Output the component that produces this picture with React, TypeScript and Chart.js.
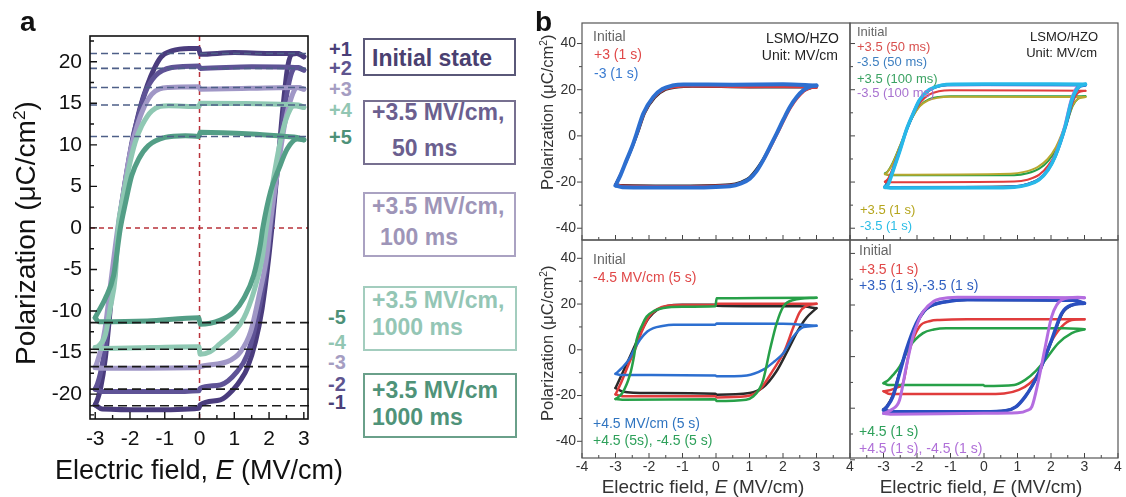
import React, { useEffect, useRef } from "react";
import { Chart, registerables } from "chart.js";

Chart.register(...registerables);

type Pt = [number, number];
const FF = '"Liberation Sans", Arial, Helvetica, sans-serif';

// ---------------- Panel a data ----------------
const A_X_TICKS = [-3, -2, -1, 0, 1, 2, 3];
const A_Y_TICKS = [-20, -15, -10, -5, 0, 5, 10, 15, 20];
const A_UPPER_LEVELS = [21.0, 19.2, 16.9, 14.8, 11.0];
const A_LOWER_LEVELS = [-11.4, -14.6, -16.7, -19.4, -21.4];
const A_PLUS_LABELS = ["+1", "+2", "+3", "+4", "+5"];
const A_MINUS_LABELS = ["-5", "-4", "-3", "-2", "-1"];

const A1_UPPER: Pt[] = [[-3.0,-21.3],[-2.93,-20.6],[-2.85,-19.4],[-2.71,-15.7],[-2.52,-7.7],[-2.33,0],[-2.2,3.8],[-2.05,7.6],[-1.9,11.0],[-1.7,14.6],[-1.5,17.2],[-1.3,19.2],[-1.1,20.6],[-0.8,21.3],[-0.3,21.6],[-0.02,21.6],[0.02,20.9],[1.0,21.1],[2.0,21.0],[2.85,21.0],[3.0,20.6]];
const A1_LOWER: Pt[] = [[-3.0,-21.3],[-2.8,-21.8],[-1.5,-21.9],[-0.02,-21.7],[0.02,-21.3],[0.6,-20.7],[0.98,-19.4],[1.2,-18.2],[1.37,-16.9],[1.61,-13.7],[1.8,-9.7],[1.99,-3.6],[2.09,0.4],[2.25,7.5],[2.4,14.5],[2.54,19.5],[2.66,20.9],[2.8,21.0],[3.0,20.6]];
const A2_UPPER: Pt[] = [[-3.0,-19.4],[-2.93,-18.7],[-2.85,-17.5],[-2.72,-14.5],[-2.52,-7.5],[-2.33,0],[-2.2,3.9],[-2.05,7.8],[-1.9,11.2],[-1.75,13.6],[-1.56,16.3],[-1.27,18.3],[-0.8,19.3],[-0.02,19.5],[0.02,19.2],[1.5,19.4],[2.85,19.3],[3.0,19.0]];
const A2_LOWER: Pt[] = [[-3.0,-19.4],[-2.8,-19.7],[-1.0,-19.7],[-0.02,-19.6],[0.02,-19.3],[0.6,-18.9],[1.08,-17.3],[1.37,-15.3],[1.61,-11.7],[1.85,-6.5],[2.05,0],[2.25,7.5],[2.45,14.5],[2.62,18.3],[2.76,19.3],[3.0,19.0]];
const A3_UPPER: Pt[] = [[-3.0,-16.8],[-2.93,-16.0],[-2.85,-14.8],[-2.72,-12.2],[-2.55,-6.5],[-2.35,0],[-2.2,4.0],[-2.0,9.0],[-1.85,11.5],[-1.66,13.9],[-1.37,16.1],[-0.9,16.9],[-0.02,17.0],[0.02,16.7],[2.85,16.9],[3.0,16.7]];
const A3_LOWER: Pt[] = [[-3.0,-16.8],[-2.8,-16.9],[-0.02,-16.8],[0.02,-16.7],[0.8,-16.1],[1.18,-14.9],[1.47,-12.5],[1.7,-8.4],[1.95,-2.9],[2.02,0],[2.25,7.0],[2.45,12.5],[2.65,15.8],[2.8,16.9],[3.0,16.7]];
const A4_UPPER: Pt[] = [[-3.0,-14.4],[-2.9,-14.2],[-2.71,-12.9],[-2.57,-9.7],[-2.42,-5.7],[-2.33,0.4],[-2.23,3.0],[-2.04,7.1],[-1.85,10.3],[-1.66,12.3],[-1.37,14.1],[-0.89,14.7],[-0.02,14.6],[0.02,15.0],[2.85,14.8],[3.0,14.5]];
const A4_LOWER: Pt[] = [[-3.0,-14.4],[-2.8,-14.5],[-0.02,-14.3],[0.02,-15.2],[0.3,-14.9],[0.6,-13.9],[0.99,-12.5],[1.27,-10.9],[1.56,-7.7],[1.8,-3.7],[1.92,0],[2.15,6.5],[2.4,11.8],[2.6,14.2],[2.71,14.7],[3.0,14.5]];
const A5_UPPER: Pt[] = [[-3.0,-10.8],[-2.9,-10.0],[-2.71,-8.5],[-2.47,-5.7],[-2.28,-0.1],[-2.13,3.0],[-1.95,6.3],[-1.75,8.3],[-1.47,9.9],[-0.99,10.9],[-0.41,11.1],[-0.02,11.0],[0.02,11.5],[1.5,11.3],[2.5,11.0],[2.8,10.9],[3.0,10.6]];
const A5_LOWER: Pt[] = [[-3.0,-10.8],[-2.9,-11.3],[-1.5,-11.2],[-0.02,-10.8],[0.02,-11.6],[0.6,-11.1],[0.99,-10.1],[1.27,-8.5],[1.56,-5.7],[1.75,-2.0],[1.82,0],[2.05,4.5],[2.28,7.1],[2.52,9.5],[2.81,10.7],[3.0,10.6]];

// ---------------- Panel b data ----------------
const B_X_TICKS = [-4, -3, -2, -1, 0, 1, 2, 3, 4];
const B4_X_TICKS = [-3, -2, -1, 0, 1, 2, 3, 4];
const B_Y_TICKS = [-40, -20, 0, 20, 40];

// b1
const B1_INIT_UPPER: Pt[] = [[-3.0,-20.8],[-2.83,-16.0],[-2.62,-9.5],[-2.32,1.5],[-2.12,9.8],[-1.82,16.5],[-1.5,19.9],[-1.15,21.0],[-0.7,21.3],[1.0,21.0],[3.0,21.0]];
const B1_INIT_LOWER: Pt[] = [[-3.0,-20.8],[-2.8,-21.3],[-1.0,-21.5],[0.4,-21.0],[0.75,-19.8],[1.0,-17.8],[1.38,-10.5],[1.78,0.5],[2.18,12.0],[2.6,19.2],[2.85,20.7],[3.0,21.0]];
const B1_P3_UPPER: Pt[] = [[-3.0,-21.0],[-2.85,-16.5],[-2.65,-10.0],[-2.35,1.0],[-2.15,9.5],[-1.85,16.6],[-1.55,20.0],[-1.2,21.2],[-0.8,21.5],[1.0,21.2],[2.0,21.3],[3.0,21.0]];
const B1_P3_LOWER: Pt[] = [[-3.0,-21.0],[-2.8,-21.6],[-1.0,-21.8],[0.45,-21.3],[0.8,-20.0],[1.05,-18.0],[1.43,-10.3],[1.83,0.8],[2.23,12.2],[2.63,19.3],[2.85,20.8],[3.0,21.0]];
const B1_M3_UPPER: Pt[] = [[-3.0,-21.5],[-2.85,-17.0],[-2.67,-10.5],[-2.5,-4.5],[-2.37,1.0],[-2.17,9.7],[-1.87,16.9],[-1.6,20.3],[-1.3,21.8],[-0.97,22.3],[0.5,22.2],[2.0,22.4],[3.0,21.8]];
const B1_M3_LOWER: Pt[] = [[-3.0,-21.5],[-2.8,-22.2],[-1.0,-22.4],[0.42,-21.8],[0.75,-20.6],[1.01,-18.5],[1.2,-15.5],[1.41,-10.5],[1.61,-4.8],[1.81,1.0],[2.01,7.0],[2.21,12.6],[2.41,16.8],[2.61,19.8],[2.8,21.3],[3.0,21.8]];

// b2
const B2_INIT_UPPER: Pt[] = [[-2.96,-21.8],[-2.85,-19.0],[-2.68,-13.0],[-2.3,3.0],[-2.1,10.0],[-1.9,15.8],[-1.65,19.5],[-1.4,21.3],[-1.1,22.0],[3.03,22.0]];
const B2_INIT_LOWER: Pt[] = [[-2.96,-21.8],[-2.8,-22.2],[0.9,-21.8],[1.3,-20.8],[1.65,-18.6],[1.92,-14.2],[2.14,-8.2],[2.44,4.5],[2.64,15.8],[2.83,21.0],[3.03,22.0]];
const B2_P35_50_UPPER: Pt[] = [[-2.96,-19.9],[-2.86,-18.5],[-2.7,-13.0],[-2.5,-5.0],[-2.3,2.8],[-2.1,9.5],[-1.9,14.5],[-1.65,17.8],[-1.35,19.3],[-1.0,19.8],[3.03,19.5]];
const B2_P35_50_LOWER: Pt[] = [[-2.96,-19.9],[-2.8,-20.1],[0.9,-19.8],[1.3,-19.0],[1.65,-16.8],[1.92,-12.8],[2.15,-7.0],[2.45,4.5],[2.65,14.5],[2.82,18.8],[3.03,19.5]];
const B2_M35_50_UPPER: Pt[] = [[-2.96,-22.0],[-2.86,-20.5],[-2.7,-14.2],[-2.5,-5.6],[-2.3,3.0],[-2.1,10.0],[-1.9,15.8],[-1.66,19.6],[-1.4,21.4],[-1.1,22.2],[0,22.3],[3.03,22.0]];
const B2_M35_50_LOWER: Pt[] = [[-2.96,-22.0],[-2.8,-22.4],[0,-22.3],[0.9,-22.0],[1.3,-21.0],[1.65,-18.8],[1.92,-14.5],[2.14,-8.5],[2.44,4.2],[2.64,15.6],[2.83,21.0],[3.03,22.0]];
const B2_P35_100_UPPER: Pt[] = [[-2.96,-16.3],[-2.88,-15.5],[-2.72,-11.5],[-2.5,-4.0],[-2.3,3.0],[-2.1,9.0],[-1.9,13.3],[-1.65,15.8],[-1.35,16.9],[-1.0,17.2],[3.03,17.2]];
const B2_P35_100_LOWER: Pt[] = [[-2.96,-16.3],[-2.85,-17.0],[0.9,-17.0],[1.3,-16.2],[1.65,-14.2],[1.92,-10.8],[2.15,-5.8],[2.45,4.5],[2.65,13.0],[2.82,16.3],[3.03,17.2]];
const B2_M35_100_UPPER: Pt[] = [[-2.96,-22.2],[-2.88,-21.0],[-2.72,-15.0],[-2.52,-6.5],[-2.34,2.0],[-2.14,9.2],[-1.95,15.0],[-1.72,19.0],[-1.45,21.2],[-1.15,22.0],[3.03,22.0]];
const B2_M35_100_LOWER: Pt[] = [[-2.96,-22.2],[-2.8,-22.5],[0.9,-22.1],[1.3,-21.1],[1.62,-19.0],[1.9,-14.5],[2.1,-9.0],[2.4,4.0],[2.6,15.8],[2.78,21.2],[3.03,22.0]];
const B2_P35_1S_UPPER: Pt[] = [[-2.96,-16.6],[-2.88,-15.6],[-2.72,-11.8],[-2.52,-4.8],[-2.32,2.4],[-2.12,8.5],[-1.92,12.8],[-1.68,15.3],[-1.38,16.5],[-1.0,16.9],[3.03,16.8]];
const B2_P35_1S_LOWER: Pt[] = [[-2.96,-16.6],[-2.85,-16.8],[0.8,-16.4],[1.2,-15.6],[1.6,-13.5],[1.9,-10.0],[2.15,-4.8],[2.42,4.5],[2.62,12.5],[2.8,16.0],[3.03,16.8]];
const B2_M35_1S_UPPER: Pt[] = [[-2.96,-22.3],[-2.86,-21.0],[-2.7,-14.5],[-2.5,-6.0],[-2.32,2.5],[-2.12,9.5],[-1.93,15.5],[-1.7,19.3],[-1.43,21.3],[-1.13,22.3],[0,22.5],[3.03,22.4]];
const B2_M35_1S_LOWER: Pt[] = [[-2.96,-22.3],[-2.8,-22.6],[0,-22.5],[0.9,-22.2],[1.3,-21.2],[1.63,-19.2],[1.9,-15.0],[2.12,-9.1],[2.42,3.9],[2.62,15.5],[2.81,21.0],[3.03,22.4]];

// b3
const B3_INIT_UPPER: Pt[] = [[-3.0,-16.7],[-2.85,-12.0],[-2.6,-4.0],[-2.4,2.5],[-2.2,9.0],[-2.0,14.0],[-1.75,17.5],[-1.45,19.2],[-1.0,19.7],[-0.02,19.7],[0.02,19.3],[2.5,19.0],[3.0,18.2]];
const B3_INIT_LOWER: Pt[] = [[-3.0,-16.7],[-2.8,-18.2],[-2.0,-18.9],[-0.02,-19.2],[0.02,-19.6],[1.0,-18.9],[1.4,-16.5],[1.8,-9.5],[2.15,0],[2.45,8.5],[2.7,14.0],[3.0,18.2]];
const B3_M45_UPPER: Pt[] = [[-3.0,-19.5],[-2.85,-15.0],[-2.6,-6.0],[-2.42,0],[-2.2,8.5],[-2.0,14.5],[-1.75,17.8],[-1.45,19.3],[-1.0,19.6],[-0.02,19.6],[0.02,20.1],[3.0,20.1]];
const B3_M45_LOWER: Pt[] = [[-3.0,-19.5],[-2.8,-20.3],[-0.02,-20.3],[0.02,-20.8],[0.9,-20.3],[1.3,-17.5],[1.7,-9.0],[2.06,0],[2.3,9.5],[2.5,16.5],[2.7,19.2],[3.0,20.1]];
const B3_P45_UPPER: Pt[] = [[-3.0,-10.5],[-2.8,-7.8],[-2.57,-3.6],[-2.45,0],[-2.27,4.4],[-2.05,8.0],[-1.87,9.5],[-1.6,10.4],[-1.27,10.9],[-0.02,11.0],[0.02,11.5],[2.0,11.4],[3.0,10.5]];
const B3_P45_LOWER: Pt[] = [[-3.0,-10.5],[-2.85,-11.0],[-0.02,-11.2],[0.02,-11.6],[0.92,-11.2],[1.41,-8.7],[1.75,-5.0],[2.01,-1.5],[2.31,5.8],[2.61,9.9],[3.0,10.5]];
const B3_PM45_UPPER: Pt[] = [[-3.0,-21.5],[-2.8,-19.0],[-2.57,-11.0],[-2.45,-3.0],[-2.37,4.4],[-2.2,11.0],[-2.07,14.5],[-1.85,17.0],[-1.57,18.3],[-1.0,18.8],[-0.02,19.0],[0.02,22.5],[3.0,22.8]];
const B3_PM45_LOWER: Pt[] = [[-3.0,-21.5],[-2.8,-21.8],[-0.02,-21.6],[0.02,-22.4],[0.9,-21.8],[1.11,-20.4],[1.3,-17.0],[1.41,-13.1],[1.61,0],[1.81,11.6],[2.01,18.9],[2.31,21.8],[3.0,22.8]];

// b4
const B4_INIT_UPPER: Pt[] = [[-3.0,-20.5],[-2.9,-19.2],[-2.72,-15.0],[-2.52,-6.0],[-2.3,3.0],[-2.0,13.0],[-1.78,17.6],[-1.6,19.5],[-1.1,21.4],[-0.5,22.0],[2.7,21.8],[3.0,20.7]];
const B4_INIT_LOWER: Pt[] = [[-3.0,-20.5],[-2.8,-21.2],[0,-21.3],[0.66,-20.9],[0.97,-19.3],[1.25,-15.2],[1.47,-10.6],[1.65,-6.0],[2.04,6.8],[2.34,16.8],[2.64,20.0],[3.0,20.7]];
const B4_P35_UPPER: Pt[] = [[-3.0,-13.4],[-2.8,-13.0],[-2.6,-12.0],[-2.42,-10.3],[-2.22,2.6],[-1.93,11.6],[-1.6,13.8],[-1.33,14.2],[-0.5,14.5],[3.0,14.5]];
const B4_P35_LOWER: Pt[] = [[-3.0,-13.4],[-2.8,-14.5],[0,-14.5],[0.6,-14.3],[1.04,-12.9],[1.35,-10.5],[1.63,-6.4],[1.93,3.9],[2.32,11.6],[2.62,14.2],[3.0,14.5]];
const B4_PM35_UPPER: Pt[] = [[-3.0,-20.7],[-2.9,-19.5],[-2.72,-15.5],[-2.52,-6.5],[-2.32,2.6],[-2.02,12.9],[-1.8,17.5],[-1.63,19.4],[-1.13,21.3],[-0.5,22.0],[2.7,21.8],[3.0,20.7]];
const B4_PM35_LOWER: Pt[] = [[-3.0,-20.7],[-2.8,-21.4],[0,-21.4],[0.64,-21.0],[0.95,-19.5],[1.23,-15.5],[1.45,-11.0],[1.63,-6.4],[2.02,6.5],[2.32,16.8],[2.62,20.0],[3.0,20.7]];
const B4_P45_UPPER: Pt[] = [[-3.0,-10.3],[-2.85,-9.0],[-2.72,-7.2],[-2.52,-3.9],[-2.22,3.9],[-1.82,9.1],[-1.5,10.5],[-1.13,11.0],[2.4,11.0],[3.0,10.6]];
const B4_P45_LOWER: Pt[] = [[-3.0,-10.3],[-2.85,-11.0],[-0.02,-11.0],[0.02,-11.4],[0.9,-11.0],[1.23,-9.0],[1.55,-5.5],[1.83,-1.3],[2.22,5.2],[2.62,9.1],[3.0,10.6]];
const B4_PM45_UPPER: Pt[] = [[-3.0,-22.0],[-2.75,-20.5],[-2.52,-16.8],[-2.32,-3.9],[-2.12,7.8],[-1.95,14.0],[-1.82,17.4],[-1.5,21.5],[-1.33,22.3],[-0.8,23.0],[3.0,22.8]];
const B4_PM45_LOWER: Pt[] = [[-3.0,-22.0],[-2.8,-22.3],[0,-22.0],[1.0,-21.8],[1.3,-20.8],[1.43,-19.4],[1.63,-9.0],[1.83,3.9],[2.02,15.5],[2.32,22.0],[2.8,23.0],[3.0,22.8]];

// ---------------- styling / layout ----------------
const A_COLORS = ["#4a3c7d", "#5f5396", "#a097c6", "#8fc8b3", "#539e86"];
const A_TEXT_COLORS = ["#4a3f78", "#5e548f", "#a59dc2", "#92c6b3", "#4d9178"];
const A_PLUS_Y = [48.5, 68, 89, 110, 137];
const A_MINUS_Y = [317, 342, 362, 384, 402];
const A_X_RANGE: Pt = [-3.15, 3.12];
const A_Y_RANGE: Pt = [-23.0, 23.1];
const A_GUIDE_RIGHT_END = 3.25;

const C = {
  black: "#2a2a2a",
  red: "#e03c3c",
  blue: "#2d6fd0",
  green: "#27a048",
  violet: "#b46de0",
  olive: "#b8a830",
  cyan: "#28b8e8",
  darkBlue: "#2a4fc0",
};

const frameTicks = {
  id: "frameTicks",
  afterDatasetsDraw(chart: any, _a: any, o: any) {
    const { ctx, chartArea: a } = chart;
    const xs = chart.scales.x;
    const ys = chart.scales.y;
    const withMinor = (vals: number[], lo: number, hi: number) => {
      const out: { v: number; major: boolean }[] = vals.map((v) => ({ v, major: true }));
      for (let i = 1; i < vals.length; i++) out.push({ v: (vals[i] + vals[i - 1]) / 2, major: false });
      if (vals.length > 1) {
        const a0 = vals[0] - (vals[1] - vals[0]) / 2;
        const n = vals.length;
        const a1 = vals[n - 1] + (vals[n - 1] - vals[n - 2]) / 2;
        if (a0 >= lo) out.push({ v: a0, major: false });
        if (a1 <= hi) out.push({ v: a1, major: false });
      }
      return out;
    };
    ctx.save();
    ctx.strokeStyle = o.tickColor;
    ctx.lineWidth = o.tickWidth;
    ctx.beginPath();
    for (const t of withMinor(xs.ticks.map((t: any) => t.value), xs.min, xs.max)) {
      const px = xs.getPixelForValue(t.v);
      const len = t.major ? o.xMajor : o.xMinor;
      ctx.moveTo(px, a.bottom);
      ctx.lineTo(px, a.bottom + (o.xIn ? -len : len));
    }
    for (const t of withMinor(ys.ticks.map((t: any) => t.value), ys.min, ys.max)) {
      const py = ys.getPixelForValue(t.v);
      const len = t.major ? o.yMajor : o.yMinor;
      ctx.moveTo(a.left, py);
      ctx.lineTo(a.left + (o.yIn ? len : -len), py);
    }
    ctx.stroke();
    ctx.strokeStyle = o.color;
    ctx.lineWidth = o.width;
    ctx.strokeRect(a.left, a.top, a.right - a.left, a.bottom - a.top);
    ctx.restore();
  },
};

type AxisSpec = { min: number; max: number; ticks: number[]; show: boolean; size: number; pad: number; color: string };
type Spec = {
  box: { left: number; top: number; width: number; height: number };
  area: { left: number; top: number; right: number; bottom: number };
  x: AxisSpec;
  y: AxisSpec;
  frame: any;
};

function axisOpts(a: AxisSpec, fit: (s: any) => void) {
  return {
    type: "linear",
    min: a.min,
    max: a.max,
    afterBuildTicks: (s: any) => {
      s.ticks = a.ticks.map((v) => ({ value: v }));
    },
    afterFit: fit,
    grid: { display: false, drawTicks: false },
    border: { display: false },
    ticks: {
      display: a.show,
      font: { family: FF, size: a.size },
      color: a.color,
      padding: a.pad,
      maxRotation: 0,
      autoSkip: false,
    },
  };
}

function makeChart(canvas: HTMLCanvasElement, spec: Spec, datasets: any[]) {
  const { box, area } = spec;
  return new Chart(canvas, {
    type: "line",
    data: { datasets },
    options: {
      responsive: false,
      maintainAspectRatio: false,
      animation: false,
      devicePixelRatio: 1,
      events: [],
      layout: {
        padding: { left: 0, bottom: 0, top: area.top - box.top, right: box.left + box.width - area.right },
      },
      plugins: { legend: { display: false }, tooltip: { enabled: false }, frameTicks: spec.frame },
      elements: { point: { radius: 0 } },
      scales: {
        x: axisOpts(spec.x, (s: any) => {
          s.height = box.top + box.height - area.bottom;
        }),
        y: axisOpts(spec.y, (s: any) => {
          s.width = area.left - box.left;
        }),
      },
    },
    plugins: [frameTicks],
  } as any);
}

const curve = (pts: Pt[], color: string, width: number, order: number) => ({
  data: pts.map(([x, y]) => ({ x, y })),
  borderColor: color,
  backgroundColor: color,
  borderWidth: width,
  pointRadius: 0,
  fill: false,
  cubicInterpolationMode: "monotone",
  order,
  borderCapStyle: "round",
  borderJoinStyle: "round",
});

const loop = (upper: Pt[], lower: Pt[], color: string, width: number, order: number) => [
  curve(upper, color, width, order),
  curve(lower, color, width, order),
];

const straight = (pts: Pt[], color: string, width: number, dash: number[], order: number, noClip = false) => {
  const d: any = {
    data: pts.map(([x, y]) => ({ x, y })),
    borderColor: color,
    borderWidth: width,
    borderDash: dash,
    pointRadius: 0,
    fill: false,
    tension: 0,
    order,
  };
  if (noClip) d.clip = false;
  return d;
};

const SPEC_A: Spec = {
  box: { left: 0, top: 0, width: 325, height: 497 },
  area: { left: 90, top: 36, right: 308, bottom: 419 },
  x: { min: A_X_RANGE[0], max: A_X_RANGE[1], ticks: A_X_TICKS, show: true, size: 21, pad: 8, color: "#111" },
  y: { min: A_Y_RANGE[0], max: A_Y_RANGE[1], ticks: A_Y_TICKS, show: true, size: 21, pad: 8, color: "#111" },
  frame: { color: "#111", width: 1.6, tickColor: "#111", tickWidth: 1.4, xMajor: 7, xMinor: 4, xIn: true, yMajor: 7, yMinor: 4, yIn: true },
};

const bFrame = (yIn: boolean) => ({
  color: "#555", width: 1.2, tickColor: "#444", tickWidth: 1, xMajor: 5, xMinor: 3, xIn: true, yMajor: 5, yMinor: 3, yIn,
});
const bAxis = (min: number, max: number, ticks: number[], show: boolean, pad: number): AxisSpec => ({
  min, max, ticks, show, size: 14, pad, color: "#333",
});

const SPEC_B1: Spec = {
  box: { left: 528, top: 0, width: 330, height: 262 },
  area: { left: 582, top: 23, right: 850, bottom: 240 },
  x: bAxis(-4, 4, B_X_TICKS, false, 1),
  y: bAxis(-45.1, 48.9, B_Y_TICKS, true, 6),
  frame: bFrame(false),
};
const SPEC_B2: Spec = {
  box: { left: 846, top: 0, width: 280, height: 262 },
  area: { left: 850, top: 23, right: 1118, bottom: 240 },
  x: bAxis(-4, 4, B_X_TICKS, false, 1),
  y: bAxis(-45.1, 48.9, B_Y_TICKS, false, 6),
  frame: bFrame(true),
};
const SPEC_B3: Spec = {
  box: { left: 528, top: 215, width: 330, height: 282 },
  area: { left: 582, top: 240, right: 850, bottom: 458 },
  x: bAxis(-4, 4, B_X_TICKS, true, 1),
  y: bAxis(-47.3, 48.0, B_Y_TICKS, true, 6),
  frame: bFrame(false),
};
const SPEC_B4: Spec = {
  box: { left: 846, top: 215, width: 280, height: 282 },
  area: { left: 850, top: 240, right: 1118, bottom: 458 },
  x: bAxis(-4, 4, B4_X_TICKS, true, 1),
  y: bAxis(-39.3, 45.2, B_Y_TICKS, false, 6),
  frame: bFrame(true),
};

function panelADatasets() {
  const loops: [Pt[], Pt[]][] = [
    [A1_UPPER, A1_LOWER],
    [A2_UPPER, A2_LOWER],
    [A3_UPPER, A3_LOWER],
    [A4_UPPER, A4_LOWER],
    [A5_UPPER, A5_LOWER],
  ];
  const ds: any[] = [];
  ds.push(straight([[0, A_Y_RANGE[0]], [0, A_Y_RANGE[1]]], "#b8323a", 1.5, [5, 4], 20));
  ds.push(straight([[A_X_RANGE[0], 0], [A_X_RANGE[1], 0]], "#b8323a", 1.5, [5, 4], 20));
  loops.forEach(([u, l], i) => ds.push(...loop(u, l, A_COLORS[i], 5, 10 - i)));
  A_UPPER_LEVELS.forEach((lv) => ds.push(straight([[A_X_RANGE[0], lv], [A_X_RANGE[1], lv]], "#4e5f88", 1.6, [7, 4], 0)));
  A_LOWER_LEVELS.forEach((lv) => ds.push(straight([[A_X_RANGE[0], lv], [A_GUIDE_RIGHT_END, lv]], "#1a1a1a", 1.6, [9, 5], 0, true)));
  return ds;
}

function panelB1() {
  return [
    ...loop(B1_INIT_UPPER, B1_INIT_LOWER, C.black, 2, 3),
    ...loop(B1_P3_UPPER, B1_P3_LOWER, C.red, 2.5, 2),
    ...loop(B1_M3_UPPER, B1_M3_LOWER, C.blue, 4, 1),
  ];
}
function panelB2() {
  return [
    ...loop(B2_INIT_UPPER, B2_INIT_LOWER, C.black, 2, 7),
    ...loop(B2_P35_100_UPPER, B2_P35_100_LOWER, C.green, 2, 6),
    ...loop(B2_P35_1S_UPPER, B2_P35_1S_LOWER, C.olive, 2, 5),
    ...loop(B2_P35_50_UPPER, B2_P35_50_LOWER, C.red, 2, 4),
    ...loop(B2_M35_100_UPPER, B2_M35_100_LOWER, C.violet, 2.5, 3),
    ...loop(B2_M35_50_UPPER, B2_M35_50_LOWER, C.blue, 3, 2),
    ...loop(B2_M35_1S_UPPER, B2_M35_1S_LOWER, C.cyan, 3.5, 1),
  ];
}
function panelB3() {
  return [
    ...loop(B3_INIT_UPPER, B3_INIT_LOWER, C.black, 2.5, 4),
    ...loop(B3_M45_UPPER, B3_M45_LOWER, C.red, 2.5, 3),
    ...loop(B3_P45_UPPER, B3_P45_LOWER, C.blue, 2.5, 2),
    ...loop(B3_PM45_UPPER, B3_PM45_LOWER, C.green, 2.5, 1),
  ];
}
function panelB4() {
  return [
    ...loop(B4_INIT_UPPER, B4_INIT_LOWER, C.black, 2.5, 5),
    ...loop(B4_P35_UPPER, B4_P35_LOWER, C.red, 2.5, 4),
    ...loop(B4_P45_UPPER, B4_P45_LOWER, C.green, 2.5, 3),
    ...loop(B4_PM35_UPPER, B4_PM35_LOWER, C.darkBlue, 3.5, 2),
    ...loop(B4_PM45_UPPER, B4_PM45_LOWER, C.violet, 3, 1),
  ];
}

// ---------------- text helpers ----------------
type TxtProps = {
  x: number;
  cy: number;
  size: number;
  color: string;
  bold?: boolean;
  align?: "left" | "right" | "center";
  children: React.ReactNode;
};
function Txt({ x, cy, size, color, bold, align = "left", children }: TxtProps) {
  const top = cy + 0.358 * size - 0.8465 * size;
  const style: React.CSSProperties = {
    position: "absolute",
    top,
    fontFamily: FF,
    fontSize: size,
    lineHeight: `${size}px`,
    color,
    fontWeight: bold ? 700 : 400,
    whiteSpace: "nowrap",
  };
  if (align === "left") style.left = x;
  else if (align === "right") style.right = 1126 - x;
  else {
    style.left = x - 300;
    style.width = 600;
    style.textAlign = "center";
  }
  return <div style={style}>{children}</div>;
}

function VTxt({ cx, cy, size, color, children }: { cx: number; cy: number; size: number; color: string; children: React.ReactNode }) {
  return (
    <div
      style={{
        position: "absolute",
        left: cx - 200,
        top: cy - size / 2,
        width: 400,
        height: size,
        lineHeight: `${size}px`,
        fontSize: size,
        fontFamily: FF,
        color,
        textAlign: "center",
        transform: "rotate(-90deg)",
        transformOrigin: "50% 50%",
        whiteSpace: "nowrap",
      }}
    >
      {children}
    </div>
  );
}

function Box({ l, t, r, b, color }: { l: number; t: number; r: number; b: number; color: string }) {
  return (
    <div
      style={{
        position: "absolute",
        left: l,
        top: t,
        width: r - l,
        height: b - t,
        border: `2px solid ${color}`,
        boxSizing: "border-box",
      }}
    />
  );
}

const sup = (s: string) => (
  <sup style={{ fontSize: "0.62em", verticalAlign: "0.55em", lineHeight: 0 }}>{s}</sup>
);
const PolTitle = () => (
  <>
    Polarization (μC/cm{sup("2")})
  </>
);
const FieldTitle = () => (
  <>
    Electric field, <i>E</i> (MV/cm)
  </>
);

export default function App() {
  const refA = useRef<HTMLCanvasElement>(null);
  const refB1 = useRef<HTMLCanvasElement>(null);
  const refB2 = useRef<HTMLCanvasElement>(null);
  const refB3 = useRef<HTMLCanvasElement>(null);
  const refB4 = useRef<HTMLCanvasElement>(null);

  useEffect(() => {
    const charts = [
      makeChart(refA.current!, SPEC_A, panelADatasets()),
      makeChart(refB1.current!, SPEC_B1, panelB1()),
      makeChart(refB2.current!, SPEC_B2, panelB2()),
      makeChart(refB3.current!, SPEC_B3, panelB3()),
      makeChart(refB4.current!, SPEC_B4, panelB4()),
    ];
    return () => charts.forEach((c) => c.destroy());
  }, []);

  const cv = (ref: React.RefObject<HTMLCanvasElement>, s: Spec) => (
    <canvas
      ref={ref}
      width={s.box.width}
      height={s.box.height}
      style={{ position: "absolute", left: s.box.left, top: s.box.top, width: s.box.width, height: s.box.height }}
    />
  );

  const boxText = 23;
  const bt = 14;
  return (
    <div style={{ position: "absolute", left: 0, top: 0, width: 1126, height: 497, background: "#fff", overflow: "hidden" }}>
      {cv(refA, SPEC_A)}
      {cv(refB1, SPEC_B1)}
      {cv(refB2, SPEC_B2)}
      {cv(refB3, SPEC_B3)}
      {cv(refB4, SPEC_B4)}

      {/* Panel a */}
      <Txt x={20} cy={32 - 0.358 * 28} size={28} color="#111" bold>a</Txt>
      <VTxt cx={26} cy={233} size={28} color="#111"><PolTitle /></VTxt>
      <Txt x={199} cy={470} size={27} color="#111" align="center"><FieldTitle /></Txt>
      {A_PLUS_LABELS.map((s, i) => (
        <Txt key={s} x={329} cy={A_PLUS_Y[i]} size={20} color={A_TEXT_COLORS[i]} bold>{s}</Txt>
      ))}
      {A_MINUS_LABELS.map((s, i) => (
        <Txt key={s} x={328} cy={A_MINUS_Y[i]} size={20} color={A_TEXT_COLORS[4 - i]} bold>{s}</Txt>
      ))}

      <Box l={363} t={38} r={516} b={76} color="#5a5878" />
      <Txt x={372} cy={58} size={boxText} color="#4a4070" bold>Initial state</Txt>

      <Box l={363} t={100} r={516} b={165} color="#777090" />
      <Txt x={372} cy={112} size={boxText} color="#6b5f8f" bold>+3.5 MV/cm,</Txt>
      <Txt x={392} cy={148} size={boxText} color="#6b5f8f" bold>50 ms</Txt>

      <Box l={363} t={192} r={516} b={257} color="#aaa2c2" />
      <Txt x={372} cy={206} size={boxText} color="#9e95b8" bold>+3.5 MV/cm,</Txt>
      <Txt x={380} cy={237} size={boxText} color="#9e95b8" bold>100 ms</Txt>

      <Box l={363} t={286} r={517} b={351} color="#a3cdbe" />
      <Txt x={372} cy={300} size={boxText} color="#94c6b5" bold>+3.5 MV/cm,</Txt>
      <Txt x={372} cy={327} size={boxText} color="#94c6b5" bold>1000 ms</Txt>

      <Box l={363} t={373} r={517} b={438} color="#6aa08a" />
      <Txt x={372} cy={390} size={boxText} color="#4f9379" bold>+3.5 MV/cm</Txt>
      <Txt x={372} cy={417} size={boxText} color="#4f9379" bold>1000 ms</Txt>

      {/* Panel b */}
      <Txt x={535} cy={32 - 0.358 * 28} size={28} color="#111" bold>b</Txt>
      <VTxt cx={547} cy={112} size={16.5} color="#333"><PolTitle /></VTxt>
      <VTxt cx={547} cy={343} size={16.5} color="#333"><PolTitle /></VTxt>
      <Txt x={703} cy={486} size={19} color="#333" align="center"><FieldTitle /></Txt>
      <Txt x={981} cy={486} size={19} color="#333" align="center"><FieldTitle /></Txt>

      {/* b1 legend */}
      <Txt x={593} cy={35.7} size={bt} color="#666">Initial</Txt>
      <Txt x={594} cy={53.5} size={bt} color="#e04848">+3 (1 s)</Txt>
      <Txt x={594} cy={72.5} size={bt} color="#3a7bd0">-3 (1 s)</Txt>
      <Txt x={839} cy={38} size={bt} color="#222" align="right">LSMO/HZO</Txt>
      <Txt x={838} cy={55} size={bt} color="#222" align="right">Unit: MV/cm</Txt>

      {/* b2 legend */}
      <Txt x={857} cy={31} size={13} color="#666">Initial</Txt>
      <Txt x={857} cy={46.7} size={13} color="#d8504e">+3.5 (50 ms)</Txt>
      <Txt x={857} cy={61.7} size={13} color="#3d7fc0">-3.5 (50 ms)</Txt>
      <Txt x={857} cy={78} size={13} color="#3aa262">+3.5 (100 ms)</Txt>
      <Txt x={857} cy={92.8} size={13} color="#a872d0">-3.5 (100 ms)</Txt>
      <Txt x={1098} cy={36} size={13} color="#222" align="right">LSMO/HZO</Txt>
      <Txt x={1097} cy={52.5} size={13} color="#222" align="right">Unit: MV/cm</Txt>
      <Txt x={860} cy={209.5} size={13} color="#b5a51c">+3.5 (1 s)</Txt>
      <Txt x={860} cy={225} size={13} color="#2bbde6">-3.5 (1 s)</Txt>

      {/* b3 legend */}
      <Txt x={593} cy={258.7} size={bt} color="#666">Initial</Txt>
      <Txt x={593} cy={276.7} size={bt} color="#e04848">-4.5 MV/cm (5 s)</Txt>
      <Txt x={593} cy={422.7} size={bt} color="#2f74c0">+4.5 MV/cm (5 s)</Txt>
      <Txt x={593} cy={440} size={bt} color="#2ea05a">+4.5 (5s), -4.5 (5 s)</Txt>

      {/* b4 legend */}
      <Txt x={859} cy={250} size={bt} color="#666">Initial</Txt>
      <Txt x={859} cy={269} size={bt} color="#e04848">+3.5 (1 s)</Txt>
      <Txt x={859} cy={285} size={bt} color="#2f5fc0">+3.5 (1 s),-3.5 (1 s)</Txt>
      <Txt x={859} cy={431} size={bt} color="#2ea05a">+4.5 (1 s)</Txt>
      <Txt x={859} cy={447.5} size={bt} color="#b070d8">+4.5 (1 s), -4.5 (1 s)</Txt>
    </div>
  );
}
